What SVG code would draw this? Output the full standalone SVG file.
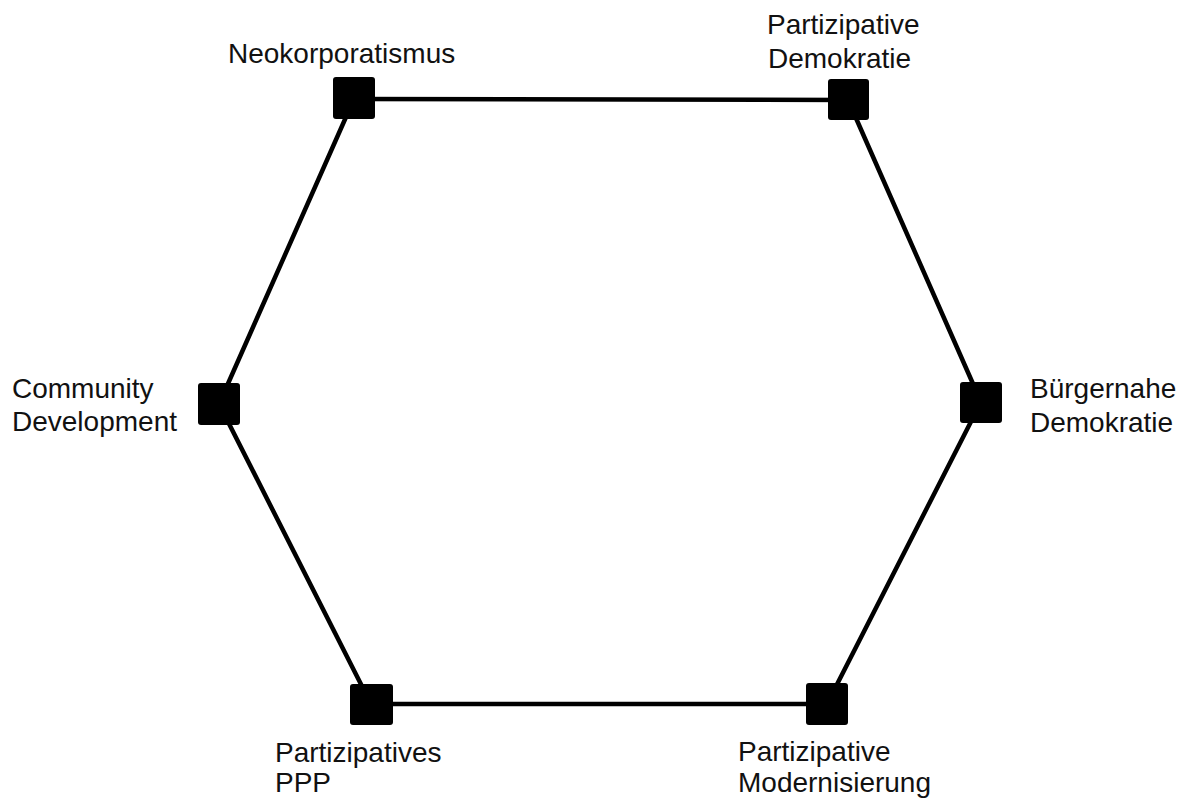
<svg xmlns="http://www.w3.org/2000/svg" width="1178" height="803" viewBox="0 0 1178 803">
<style>
.lbl{font-family:"Liberation Sans",Arial,sans-serif;font-size:28px;fill:#111}
.node rect{fill:#000}
.edges line{stroke:#000;stroke-width:4.5;stroke-linecap:round}
</style>
<rect width="1178" height="803" fill="#fff"/>
<g class="edges" id="connectors">
<line x1="354" y1="99" x2="848" y2="100"/>
<line x1="848" y1="100" x2="981" y2="402"/>
<line x1="981" y1="402" x2="827" y2="704"/>
<line x1="827" y1="704" x2="371" y2="704"/>
<line x1="371" y1="704" x2="219" y2="404"/>
<line x1="219" y1="404" x2="354" y2="99"/>
</g>
<g class="node" id="neokorporatismus">
<rect x="333" y="77" width="42" height="42" rx="3"/>
<text class="lbl" x="228" y="63">Neokorporatismus</text>
</g>
<g class="node" id="partizipative-demokratie">
<rect x="828" y="79" width="41" height="41" rx="3"/>
<text class="lbl" x="767" y="34">Partizipative</text>
<text class="lbl" x="768" y="68">Demokratie</text>
</g>
<g class="node" id="buergernahe-demokratie">
<rect x="960" y="382" width="42" height="41" rx="3"/>
<text class="lbl" x="1030" y="398">Bürgernahe</text>
<text class="lbl" x="1030" y="432">Demokratie</text>
</g>
<g class="node" id="partizipative-modernisierung">
<rect x="806" y="683" width="42" height="42" rx="3"/>
<text class="lbl" x="738" y="761">Partizipative</text>
<text class="lbl" x="738" y="792">Modernisierung</text>
</g>
<g class="node" id="partizipatives-ppp">
<rect x="350" y="684" width="43" height="41" rx="3"/>
<text class="lbl" x="275" y="762">Partizipatives</text>
<text class="lbl" x="275" y="792">PPP</text>
</g>
<g class="node" id="community-development">
<rect x="198" y="383" width="42" height="42" rx="3"/>
<text class="lbl" x="12" y="398">Community</text>
<text class="lbl" x="12" y="431">Development</text>
</g>
</svg>
